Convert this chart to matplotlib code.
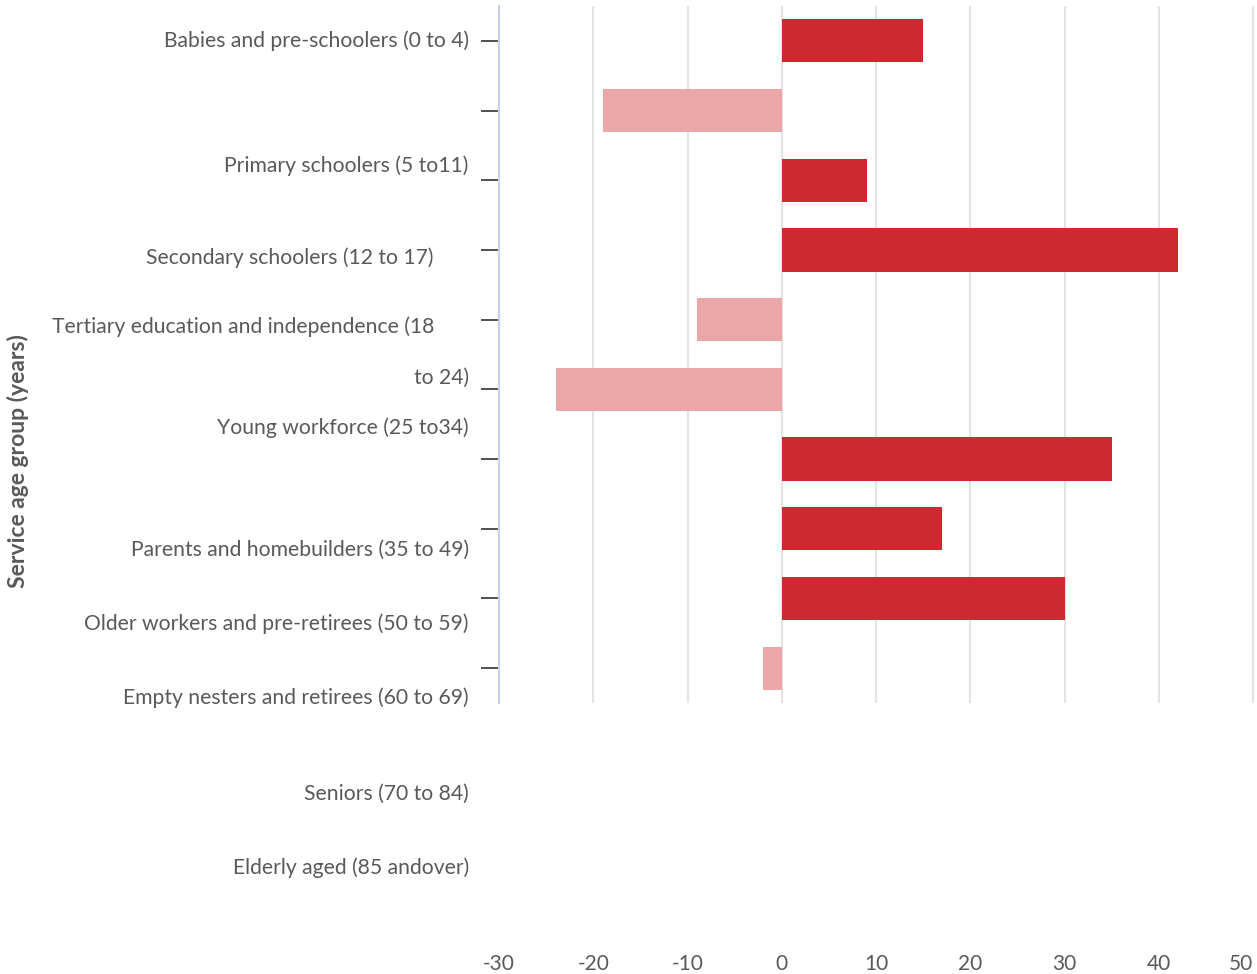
import matplotlib.pyplot as plt

# Net change per service age group band
bar_values = [15, -19, 9, 42, -9, -24, 35, 17, 30, -2]

# Group names as they sit beside the axis
group_labels = [
    "Babies and pre-schoolers (0 to 4)",
    "Primary schoolers (5 to11)",
    "Secondary schoolers (12 to 17)",
    "Tertiary education and independence (18",
    "to 24)",
    "Young workforce (25 to34)",
    "Parents and homebuilders (35 to 49)",
    "Older workers and pre-retirees (50 to 59)",
    "Empty nesters and retirees (60 to 69)",
    "Seniors (70 to 84)",
    "Elderly aged (85 andover)",
]
x_ticks = [-30, -20, -10, 0, 10, 20, 30, 40, 50]

# where each group label sits (row units) and its right edge (value units)
label_rows = [0.0, 1.79, 3.11, 4.1, 4.83, 5.55, 7.3, 8.36, 9.42, 10.81, 11.87]
label_right = [-33.2, -33.2, -36.9, -36.9, -33.2, -33.2, -33.2, -33.2, -33.2, -33.2, -33.2]

RED = "#cc2a30"
PINK = "#eba6a8"
TEXT = "#595959"
FONT = ["Lato", "DejaVu Sans"]

plt.rcParams["font.family"] = FONT

fig = plt.figure(figsize=(12.57, 9.74), dpi=100)
ax = fig.add_axes([499 / 1257, 1 - 703 / 974, 756 / 1257, 697 / 974])

rows = list(range(len(bar_values)))
colors = [RED if v > 0 else PINK for v in bar_values]
ax.barh(rows, bar_values, height=0.62, color=colors, zorder=3)

ax.set_xlim(-30, 50.2)
ax.set_ylim(len(bar_values) - 0.5, -0.5)
ax.set_xticks(x_ticks)
ax.set_xticklabels([str(t) for t in x_ticks], fontsize=15, color=TEXT)
ax.tick_params(axis="x", length=0, pad=181)
# keep the last value label inside the figure edge
ax.get_xticklabels()[-1].set_ha("right")
ax.set_yticks(rows)
ax.set_yticklabels([])
ax.tick_params(axis="y", length=13, width=1.1, color="#222222")
ax.grid(axis="x", color="#e3e3e3", linewidth=1.5, zorder=0)

for side in ["top", "right", "bottom"]:
    ax.spines[side].set_visible(False)
ax.spines["left"].set_color("#c8cfe8")
ax.spines["left"].set_linewidth(1.5)

for text, row, right in zip(group_labels, label_rows, label_right):
    ax.text(right, row, text, ha="right", va="center", fontsize=15.2,
            color=TEXT, clip_on=False)

fig.text(18 / 1257, 1 - 461 / 974, "Service age group (years)", rotation=90,
         ha="center", va="center", fontsize=16.5, fontweight="bold", color=TEXT)

fig.savefig("out.png", dpi=100)
